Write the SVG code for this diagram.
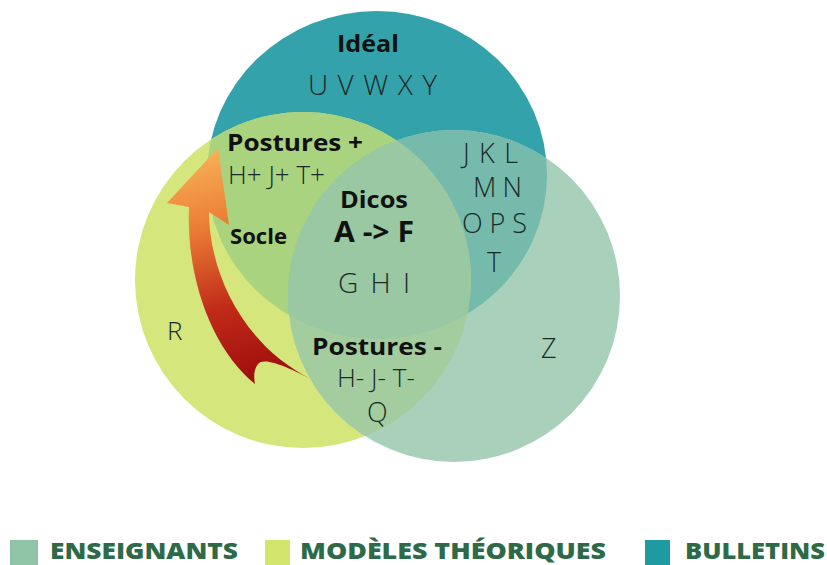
<svg xmlns="http://www.w3.org/2000/svg" width="827" height="565" viewBox="0 0 827 565">
<style>
  .b{font-family:"Open Sans","Liberation Sans",sans-serif;font-weight:700;fill:#111;}
  .l{font-family:"Open Sans","Liberation Sans",sans-serif;font-weight:300;fill:#182b26;}
  .lg{font-family:"Open Sans","Liberation Sans",sans-serif;font-weight:800;fill:#2e6a48;font-size:22px;}
</style>
<defs>
  <clipPath id="cT"><ellipse cx="377" cy="175" rx="170" ry="164"/></clipPath>
  <clipPath id="cL"><circle cx="303" cy="280" r="168"/></clipPath>
  <linearGradient id="arr" gradientUnits="userSpaceOnUse" x1="215" y1="150" x2="270" y2="385">
    <stop offset="0" stop-color="#f7b056"/>
    <stop offset="0.3" stop-color="#eb7d36"/>
    <stop offset="0.65" stop-color="#c02a18"/>
    <stop offset="1" stop-color="#9a0b0b"/>
  </linearGradient>
</defs>
<rect width="827" height="565" fill="#ffffff"/>
<g id="bulletins">
  <ellipse cx="377" cy="175" rx="170" ry="164" fill="#33a2aa"/>
</g>
<g id="modeles">
  <circle cx="303" cy="280" r="168" fill="#d5e67d"/>
</g>
<g id="enseignants">
  <circle cx="454" cy="296" r="166" fill="#a8d0ba"/>
</g>
<g id="overlaps">
  <g clip-path="url(#cT)"><circle cx="303" cy="280" r="168" fill="#a9d37e"/></g>
  <g clip-path="url(#cT)"><circle cx="454" cy="296" r="166" fill="#76baac"/></g>
  <g clip-path="url(#cL)"><circle cx="454" cy="296" r="166" fill="#a3cd9f"/></g>
  <g clip-path="url(#cT)"><g clip-path="url(#cL)"><circle cx="454" cy="296" r="166" fill="#99c8a2"/></g></g>
</g>
<g id="connectors">
  <path d="M218,148 L229,225 L209,212 C209,270 241,345 313,380 C290,368 264,356 258,364 C253,371 254,378 255,384 C213,350 186,280 189,207 L167,203 Z" fill="url(#arr)"/>
</g>
<g id="labels">
  <text class="b" x="368" y="52" font-size="24" text-anchor="middle" textLength="62" lengthAdjust="spacingAndGlyphs">Idéal</text>
  <text class="l" x="308" y="95" font-size="28" textLength="129" lengthAdjust="spacing">UVWXY</text>
  <text class="b" x="227" y="151" font-size="23" textLength="136" lengthAdjust="spacingAndGlyphs">Postures +</text>
  <text class="l" x="228" y="184" font-size="25" textLength="97" lengthAdjust="spacingAndGlyphs">H+ J+ T+</text>
  <text class="b" x="230" y="244" font-size="21" textLength="57" lengthAdjust="spacingAndGlyphs">Socle</text>
  <text class="b" x="340" y="208" font-size="24" textLength="68" lengthAdjust="spacingAndGlyphs">Dicos</text>
  <text class="b" x="334" y="242" font-size="28" textLength="80" lengthAdjust="spacingAndGlyphs">A -&gt; F</text>
  <text class="l" x="338" y="293" font-size="28" textLength="72" lengthAdjust="spacing">GHI</text>
  <text class="l" x="463" y="163" font-size="27" textLength="55" lengthAdjust="spacing">JKL</text>
  <text class="l" x="473" y="197" font-size="27" textLength="49" lengthAdjust="spacing">MN</text>
  <text class="l" x="462" y="233" font-size="27" textLength="65" lengthAdjust="spacing">OPS</text>
  <text class="l" x="487" y="272" font-size="27">T</text>
  <text class="l" x="167" y="340" font-size="26">R</text>
  <text class="l" x="541" y="358" font-size="27">Z</text>
  <text class="b" x="312" y="355" font-size="23" textLength="130" lengthAdjust="spacingAndGlyphs">Postures -</text>
  <text class="l" x="337" y="387" font-size="25" textLength="78" lengthAdjust="spacingAndGlyphs">H- J- T-</text>
  <text class="l" x="367" y="422" font-size="27">Q</text>
</g>
<g id="legend">
  <rect x="10" y="540" width="28" height="25" fill="#8fc4a6"/>
  <text class="lg" x="50" y="559" textLength="188" lengthAdjust="spacingAndGlyphs">ENSEIGNANTS</text>
  <rect x="265" y="540" width="25" height="25" fill="#d3e56a"/>
  <text class="lg" x="300" y="559" textLength="306" lengthAdjust="spacingAndGlyphs">MODÈLES THÉORIQUES</text>
  <rect x="645" y="540" width="25" height="25" fill="#1e9ba0"/>
  <text class="lg" x="685" y="559" textLength="140" lengthAdjust="spacingAndGlyphs">BULLETINS</text>
</g>
</svg>
